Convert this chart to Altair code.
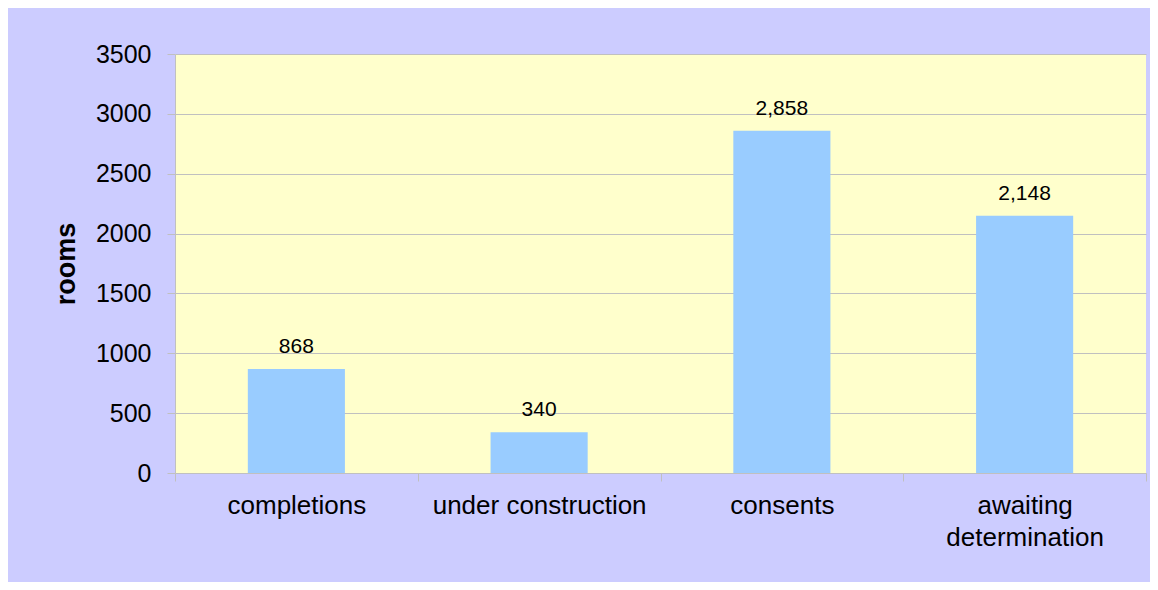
import altair as alt
import pandas as pd

categories = ["completions", "under construction", "consents", "awaiting determination"]
values = [868, 340, 2858, 2148]
labels = ["868", "340", "2,858", "2,148"]
y_ticks = [0, 500, 1000, 1500, 2000, 2500, 3000, 3500]

df = pd.DataFrame({"category": categories, "value": values, "label": labels})

x_enc = alt.X(
    "category:N",
    sort=categories,
    scale=alt.Scale(paddingInner=0, paddingOuter=0),
    axis=alt.Axis(
        title=None,
        labelAngle=0,
        labelFontSize=26,
        labelFont="Liberation Sans",
        labelColor="#000000",
        labelPadding=11,
        labelLineHeight=32,
        labelLimit=400,
        tickBand="extent",
        tickSize=8,
        tickColor="#c0c0c0",
        domainColor="#c0c0c0",
        labelExpr="datum.label == 'awaiting determination' ? ['awaiting', 'determination'] : datum.label",
    ),
)

y_enc = alt.Y(
    "value:Q",
    scale=alt.Scale(domain=[0, 3500], nice=False),
    axis=alt.Axis(
        title="rooms",
        titleFontSize=27,
        titleFont="Liberation Sans",
        titleFontWeight="bold",
        titleColor="#000000",
        titlePadding=15,
        values=y_ticks,
        format="d",
        labelFontSize=25,
        labelFont="Liberation Sans",
        labelColor="#000000",
        labelPadding=16,
        tickSize=8,
        tickColor="#c0c0c0",
        domainColor="#c0c0c0",
        gridColor="#c0c0c0",
        grid=True,
    ),
)

bars = alt.Chart(df).mark_bar(color="#99ccff", width=alt.RelativeBandSize(0.4)).encode(
    x=x_enc, y=y_enc
)

text = alt.Chart(df).mark_text(
    dy=-16, fontSize=21, font="Liberation Sans", color="#000000", baseline="alphabetic"
).encode(
    x=alt.X("category:N", sort=categories),
    y="value:Q",
    text="label:N",
)

chart = (
    alt.layer(bars, text)
    .properties(
        width=971,
        height=419,
        background="#ccccff",
        padding={"left": 167, "top": 46, "right": 4, "bottom": 109},
        autosize=alt.AutoSizeParams(type="none"),
    )
    .configure_view(fill="#ffffcc", stroke=None)
)

chart.save("out.html", embed_options={"renderer": "svg", "actions": False})
